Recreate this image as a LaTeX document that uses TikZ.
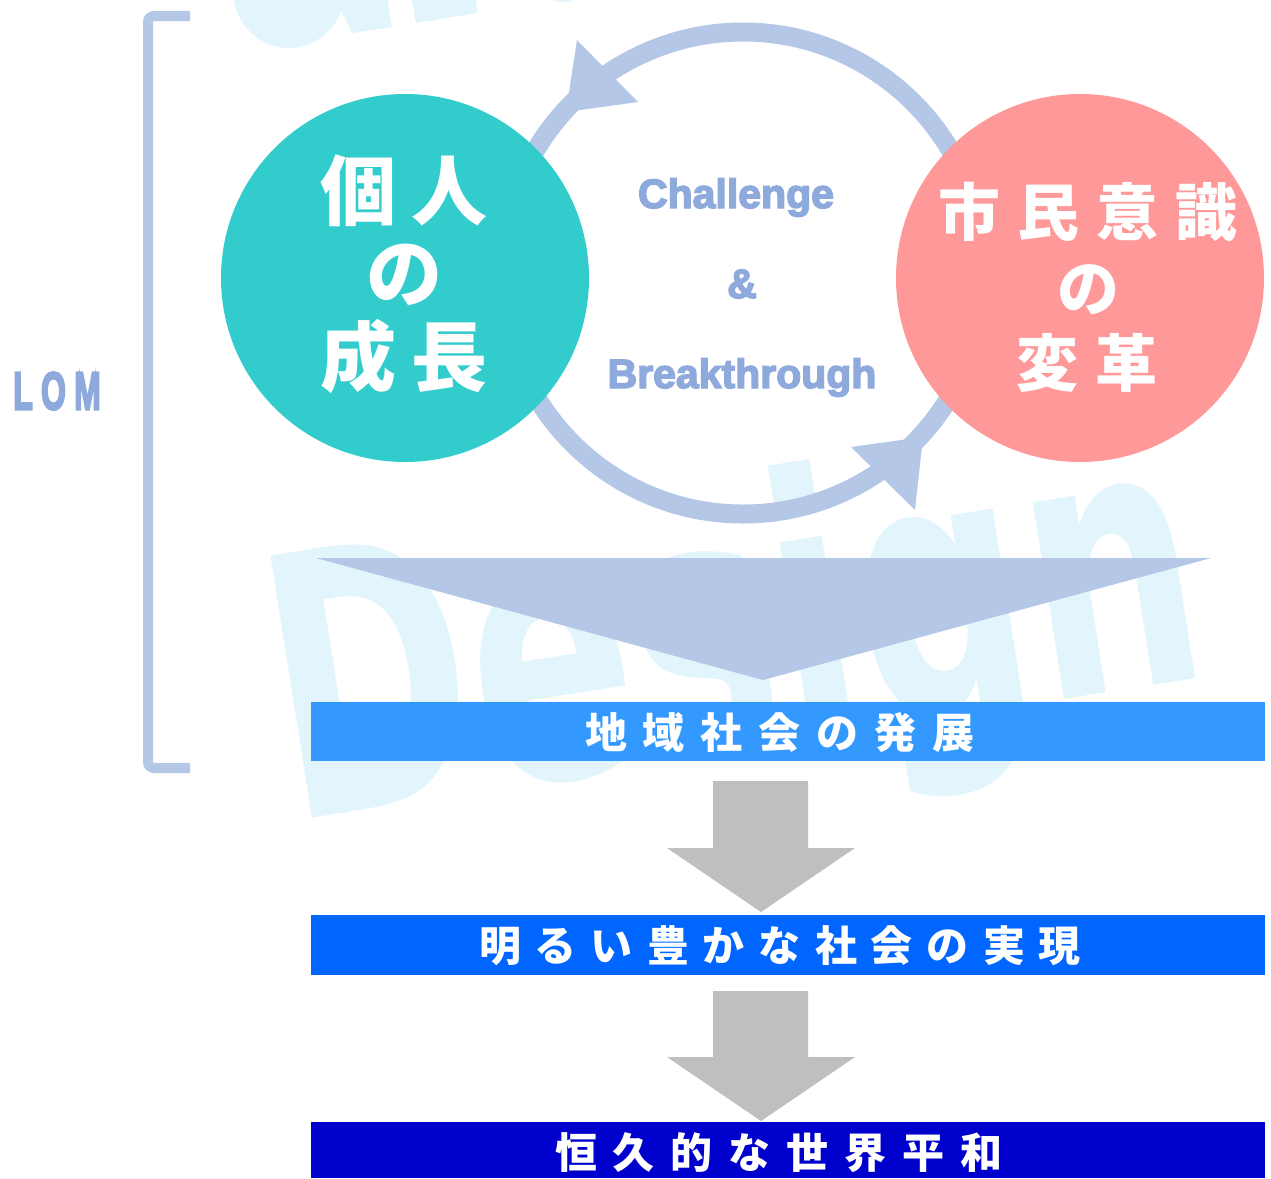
\documentclass[tikz,border=0pt]{standalone}
\usepackage{fontspec}
\setmainfont{Liberation Sans}
\newfontfamily\cjk{Noto Sans CJK JP}
\newfontfamily\heavy{Liberation Sans}[UprightFont={* Bold},FakeBold=3.5]
\newfontfamily\lomfont{Liberation Sans}[UprightFont={* Bold},FakeBold=5]
\newfontfamily\wmfont{DejaVu Sans}[UprightFont={* Bold}]
\definecolor{ringc}{HTML}{B4C7E7}
\definecolor{txtblue}{HTML}{8EA9DB}
\definecolor{tealc}{HTML}{33CCCC}
\definecolor{pinkc}{HTML}{FF9999}
\definecolor{bandA}{HTML}{3399FF}
\definecolor{bandB}{HTML}{0066FF}
\definecolor{bandC}{HTML}{0000CC}
\definecolor{grayc}{HTML}{BFBFBF}
\definecolor{wmc}{HTML}{E2F5FD}
\begin{document}
\begin{tikzpicture}[x=1pt,y=-1pt,
  bigcircle/.style={circle,inner sep=0pt,minimum size=368pt},
  circtxt/.style={text=white,inner sep=0pt,font=\cjk\bfseries\fontsize{76}{76}\selectfont},
  circtxtR/.style={text=white,inner sep=0pt,font=\cjk\bfseries\fontsize{62}{62}\selectfont},
  midtxt/.style={text=txtblue,inner sep=0pt,anchor=base,font=\heavy\fontsize{41}{41}\selectfont},
  bandbox/.style={anchor=north west,inner sep=0pt,minimum width=954pt},
  bandtxt/.style={text=white,inner sep=0pt,font=\cjk\bfseries\fontsize{42}{42}\selectfont},
  graydown/.style={fill=grayc},
]
\useasboundingbox (0,0) rectangle (1271,1178);
\fill[white] (0,0) rectangle (1271,1178);
\clip (0,0) rectangle (1271,1178);
% watermark
\fill[wmc] (289,-10) ellipse [x radius=56, y radius=58];
\fill[wmc] (340,-5) -- (387,-5) -- (392,27) -- (352,33) -- (342,12) -- cycle;
\fill[wmc] (411,-5) -- (476,-5) -- (477,13) -- (416,23) -- cycle;
\fill[wmc] (562,-30) ellipse [x radius=30, y radius=32];
\node[rotate=9,anchor=base west,inner sep=0pt,text=wmc,font=\wmfont\fontsize{350}{350}\selectfont] (wm) at (290,822) {\scalebox{0.69}[1.04]{Design}};
% bracket
\draw[ringc,line width=10pt,rounded corners=6pt] (190,16) -- (148,16) -- (148,768) -- (190,768);
\node[inner sep=0pt,text=txtblue,font=\lomfont\fontsize{53}{53}\selectfont] (lom) at (57,391) {\scalebox{0.6}[1]{L\hspace{14pt}O\hspace{14pt}M}};
% cycle ring
\coordinate (ringc) at (743,273);
\draw[ringc,line width=19pt] (ringc) circle [radius=241];
\fill[ringc] (577,40) -- (638,102) -- (566,112) -- cycle;
\fill[ringc] (851,447) -- (915,510) -- (923,437) -- cycle;
% circles
\node[bigcircle,fill=tealc] (indiv) at (405,278) {};
\node[bigcircle,fill=pinkc] (civic) at (1080,278) {};
\node[circtxt] (indiv1) at (404,191) {個\hspace{16pt}人};
\node[circtxt] (indiv2) at (404,275) {の};
\node[circtxt] (indiv3) at (404,357) {成\hspace{16pt}長};
\node[circtxtR] (civic1) at (1088,212) {市\hspace{17pt}民\hspace{17pt}意\hspace{17pt}識};
\node[circtxtR] (civic2) at (1088,290) {の};
\node[circtxtR] (civic3) at (1087,363) {変\hspace{17pt}革};
% middle text
\node[midtxt] (chal) at (736,208) {Challenge};
\node[midtxt] (amp) at (742,298) {\&};
\node[midtxt] (brk) at (742,388) {Breakthrough};
% funnel
\fill[ringc] (316,558) -- (1211,558) -- (763,680) -- cycle;
% bands
\node[bandbox,fill=bandA,minimum height=59pt] (band1) at (311,702) {};
\node[bandbox,fill=bandB,minimum height=60pt] (band2) at (311,915) {};
\node[bandbox,fill=bandC,minimum height=56pt] (band3) at (311,1122) {};
\node[bandtxt] (t1) at (780,733) {地\hspace{16pt}域\hspace{16pt}社\hspace{16pt}会\hspace{16pt}の\hspace{16pt}発\hspace{16pt}展};
\node[bandtxt] (t2) at (780,946) {明\hspace{14pt}る\hspace{14pt}い\hspace{14pt}豊\hspace{14pt}か\hspace{14pt}な\hspace{14pt}社\hspace{14pt}会\hspace{14pt}の\hspace{14pt}実\hspace{14pt}現};
\node[bandtxt] (t3) at (779,1153) {恒\hspace{16pt}久\hspace{16pt}的\hspace{16pt}な\hspace{16pt}世\hspace{16pt}界\hspace{16pt}平\hspace{16pt}和};
% gray arrows
\fill[graydown] (713,781) -- (808,781) -- (808,848) -- (855,848) -- (761,912) -- (667,848) -- (713,848) -- cycle;
\fill[graydown] (713,991) -- (808,991) -- (808,1057) -- (855,1057) -- (761,1121) -- (667,1057) -- (713,1057) -- cycle;
\end{tikzpicture}
\end{document}
